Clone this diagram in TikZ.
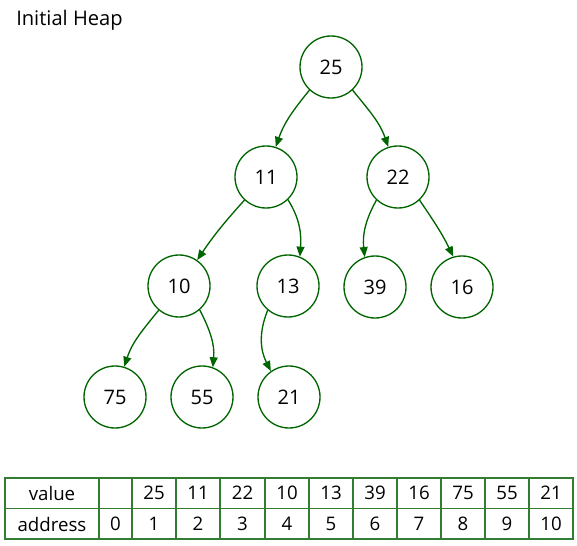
\documentclass[tikz,border=0pt]{standalone}
\usepackage{fontspec}
\setmainfont{Open Sans}
\usetikzlibrary{arrows.meta}
\definecolor{nodegreen}{RGB}{0,100,0}
\definecolor{tablegreen}{RGB}{50,125,50}
\begin{document}
\begin{tikzpicture}[x=0.75pt,y=0.75pt,
  heapnode/.style={circle,draw=nodegreen,line width=1pt,minimum size=46.5pt,inner sep=0pt,font=\fontsize{15}{17}\selectfont},
  edge/.style={draw=nodegreen,line width=1pt,-{Triangle[length=7.5pt,width=6pt]}},
  cell/.style={inner sep=0pt,font=\fontsize{14}{16}\selectfont},
  grid/.style={draw=tablegreen,line width=1.4pt}]
\useasboundingbox (0,0) rectangle (577,-545);
\node[anchor=west,inner sep=0pt,font=\fontsize{15.1}{17}\selectfont] (title) at (16,-20) {Initial Heap};
% nodes
\node[heapnode] (n25) at (331,-67) {25};
\node[heapnode] (n11) at (266,-177) {11};
\node[heapnode] (n22) at (398,-177) {22};
\node[heapnode] (n10) at (179,-286) {10};
\node[heapnode] (n13) at (288,-286) {13};
\node[heapnode] (n39) at (375,-287) {39};
\node[heapnode] (n16) at (462,-287) {16};
\node[heapnode] (n75) at (115,-397) {75};
\node[heapnode] (n55) at (202,-397) {55};
\node[heapnode] (n21) at (289,-397) {21};
% edges
\draw[edge] (n25.-133) to[out=-129,in=71] (n11.72);
\draw[edge] (n25.-47) to[out=-51,in=109] (n22.108);
\draw[edge] (n11.-133) to[out=-132,in=56] (n10.55);
\draw[edge] (n11.-46) to[out=-58,in=86] (n13.68);
\draw[edge] (n22.-133) to[out=-119,in=96] (n39.109);
\draw[edge] (n22.-47) to[out=-56,in=116] (n16.106);
\draw[edge] (n10.-130) to[out=-129,in=72] (n75.73);
\draw[edge] (n10.-49) to[out=-63,in=85] (n55.70);
\draw[edge] (n13.-130) to[out=-112,in=117] (n21.125);
% table grid
\draw[grid] (5,-478) rectangle (573,-539);
\draw[grid] (5,-508.5) -- (573,-508.5);
\foreach \x in {99,132,176,220,265,309,353,397,441,485,529}
  \draw[grid] (\x,-478) -- (\x,-539);
% table text
\node[cell] (vlab) at (52,-493) {value};
\node[cell] (alab) at (52,-524) {address};
\node[cell] (a0) at (115.5,-524) {0};
\node[cell] (v1) at (154,-493) {25};
\node[cell] (a1) at (154,-524) {1};
\node[cell] (v2) at (198,-493) {11};
\node[cell] (a2) at (198,-524) {2};
\node[cell] (v3) at (242.5,-493) {22};
\node[cell] (a3) at (242.5,-524) {3};
\node[cell] (v4) at (287,-493) {10};
\node[cell] (a4) at (287,-524) {4};
\node[cell] (v5) at (331,-493) {13};
\node[cell] (a5) at (331,-524) {5};
\node[cell] (v6) at (375,-493) {39};
\node[cell] (a6) at (375,-524) {6};
\node[cell] (v7) at (419,-493) {16};
\node[cell] (a7) at (419,-524) {7};
\node[cell] (v8) at (463,-493) {75};
\node[cell] (a8) at (463,-524) {8};
\node[cell] (v9) at (507,-493) {55};
\node[cell] (a9) at (507,-524) {9};
\node[cell] (v10) at (551,-493) {21};
\node[cell] (a10) at (551,-524) {10};
\end{tikzpicture}
\end{document}
